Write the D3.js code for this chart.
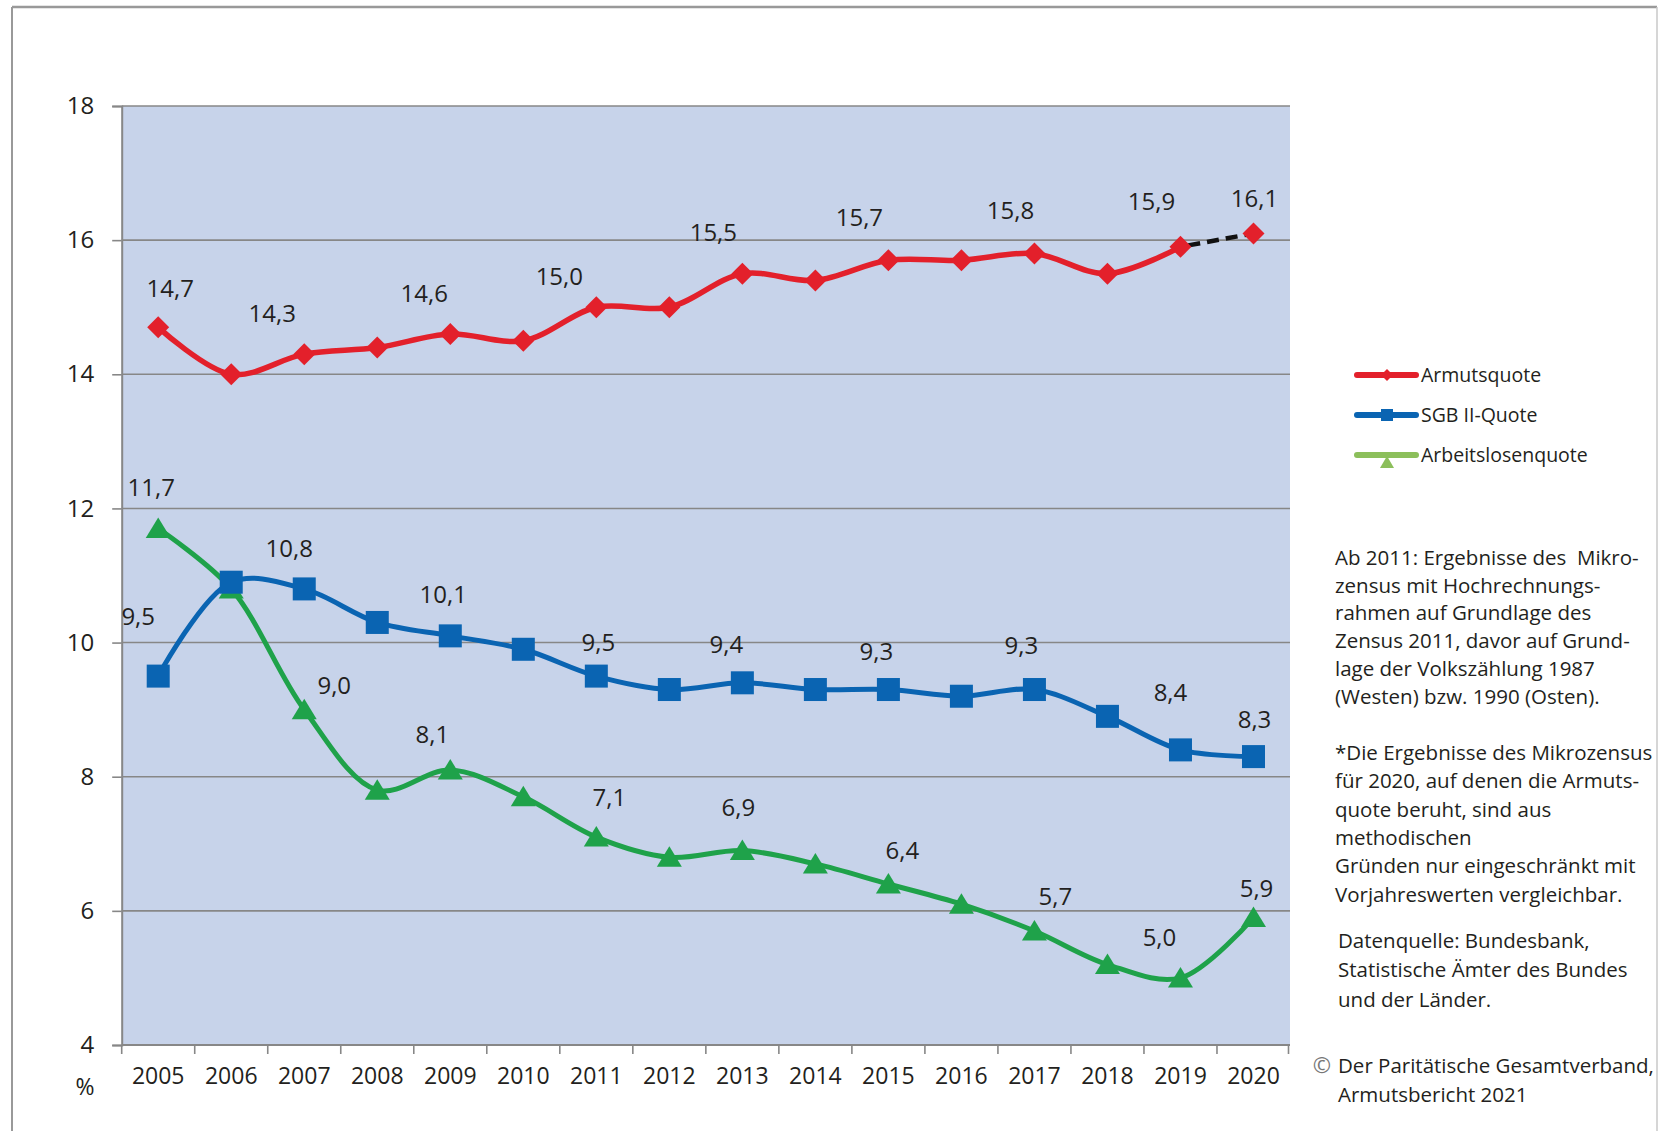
<!DOCTYPE html>
<html>
<head>
<meta charset="utf-8">
<script src="https://cdn.jsdelivr.net/npm/d3@7"></script>
<style>
  html, body { margin: 0; padding: 0; background: #fff; }
  svg { display: block; }
  text { font-family: "Open Sans", "Noto Sans", sans-serif; fill: #231f20; }
</style>
</head>
<body>
<svg id="chart" width="1658" height="1131"></svg>
<script>
// ---------- data ----------
const years = [2005, 2006, 2007, 2008, 2009, 2010, 2011, 2012, 2013, 2014, 2015, 2016, 2017, 2018, 2019, 2020];
const armutsquote = [14.7, 14.0, 14.3, 14.4, 14.6, 14.5, 15.0, 15.0, 15.5, 15.4, 15.7, 15.7, 15.8, 15.5, 15.9, 16.1];
const sgb2Quote = [9.5, 10.9, 10.8, 10.3, 10.1, 9.9, 9.5, 9.3, 9.4, 9.3, 9.3, 9.2, 9.3, 8.9, 8.4, 8.3];
const arbeitslosenquote = [11.7, 10.8, 9.0, 7.8, 8.1, 7.7, 7.1, 6.8, 6.9, 6.7, 6.4, 6.1, 5.7, 5.2, 5.0, 5.9];
const yTicks = [4, 6, 8, 10, 12, 14, 16, 18];
const seriesNames = ["Armutsquote", "SGB II-Quote", "Arbeitslosenquote"];
const labelledYears = [2005, 2007, 2009, 2011, 2013, 2015, 2017, 2019, 2020];
const noteLines1 = [
  "Ab 2011: Ergebnisse des  Mikro-",
  "zensus mit Hochrechnungs-",
  "rahmen auf Grundlage des",
  "Zensus 2011, davor auf Grund-",
  "lage der Volkszählung 1987",
  "(Westen) bzw. 1990 (Osten)."
];
const noteLines2 = [
  "*Die Ergebnisse des Mikrozensus",
  "für 2020, auf denen die Armuts-",
  "quote beruht, sind aus",
  "methodischen",
  "Gründen nur eingeschränkt mit",
  "Vorjahreswerten vergleichbar."
];
const sourceLines = ["Datenquelle: Bundesbank,", "Statistische Ämter des Bundes", "und der Länder."];
const copyrightLines = ["Der Paritätische Gesamtverband,", "Armutsbericht 2021"];

// ---------- layout / style (not data) ----------
const plot = { left: 121.7, right: 1290, top: 106, bottom: 1045 };
const colors = { red: "#e3202b", blue: "#0a64b2", green: "#1fa24a", legendGreen: "#8cbf5b", bg: "#c7d3ea", grid: "#878787" };
// label offsets (dx, dy) relative to the marker, per labelled year
const labelOffsets = {
  red:   [[12,-39],[-32,-41],[-26,-41],[-37,-31],[-29,-41],[-29,-43],[-24,-43],[-29,-45],[1,-35]],
  blue:  [[-20,-60],[-15,-40],[-7,-41],[2,-34],[-16,-38],[-12,-38],[-13,-44],[-10,-57],[1,-37]],
  green: [[-7,-41],[30,-24],[-18,-36],[13,-40],[-4,-43],[14,-34],[21,-34],[-21,-40],[3,-29]]
};

const svg = d3.select("#chart");

// outer frame
svg.append("line").attr("x1", 12).attr("x2", 1657).attr("y1", 7).attr("y2", 7).attr("stroke", "#999").attr("stroke-width", 2.5);
svg.append("line").attr("x1", 12).attr("x2", 12).attr("y1", 7).attr("y2", 1131).attr("stroke", "#999").attr("stroke-width", 2);
svg.append("line").attr("x1", 1657).attr("x2", 1657).attr("y1", 7).attr("y2", 1131).attr("stroke", "#c8c8c8").attr("stroke-width", 1.5);

const x = d3.scaleBand().domain(years).range([plot.left, plot.right]).padding(0);
const y = d3.scaleLinear().domain([4, 18]).range([plot.bottom, plot.top]);
const cx = yr => x(yr) + x.bandwidth() / 2;

// plot background
svg.append("rect").attr("x", plot.left).attr("y", plot.top)
  .attr("width", plot.right - plot.left).attr("height", plot.bottom - plot.top)
  .attr("fill", colors.bg);

// gridlines
svg.append("g").selectAll("line").data(yTicks.filter(t => t > 4)).join("line")
  .attr("x1", plot.left).attr("x2", plot.right)
  .attr("y1", d => y(d)).attr("y2", d => y(d))
  .attr("stroke", colors.grid).attr("stroke-width", 1.6);

// y axis
const yAxis = svg.append("g").attr("transform", `translate(${plot.left},0)`)
  .call(d3.axisLeft(y).tickValues(yTicks).tickSize(9.5).tickPadding(18).tickFormat(d3.format("d")));
yAxis.select(".domain").attr("stroke", colors.grid).attr("stroke-width", 2);
yAxis.selectAll(".tick line").attr("stroke", colors.grid).attr("stroke-width", 1.6);
yAxis.selectAll(".tick text").style("font-family", "Open Sans").style("font-size", "24px").attr("fill", "#231f20");

// x axis line + boundary ticks
svg.append("line").attr("x1", plot.left).attr("x2", plot.right)
  .attr("y1", plot.bottom).attr("y2", plot.bottom).attr("stroke", colors.grid).attr("stroke-width", 2);
const boundaries = years.map(yr => x(yr)).concat([plot.right - 1.5]);
svg.append("g").selectAll("line").data(boundaries).join("line")
  .attr("x1", d => d).attr("x2", d => d)
  .attr("y1", plot.bottom).attr("y2", plot.bottom + 9)
  .attr("stroke", colors.grid).attr("stroke-width", 1.6);
const xAxis = svg.append("g").attr("transform", `translate(0,${plot.bottom})`)
  .call(d3.axisBottom(x).tickSize(0).tickPadding(23));
xAxis.select(".domain").remove();
xAxis.selectAll(".tick text").style("font-family", "Open Sans").style("font-size", "23px").attr("fill", "#231f20");

svg.append("text").attr("x", 85).attr("y", 1095).attr("text-anchor", "middle")
  .style("font-size", "23px").text("%");

// series
const curve = d3.curveCatmullRom.alpha(0.5);
const line = d3.line().x(d => cx(d.year)).y(d => y(d.v)).curve(curve);
const toPts = arr => years.map((yr, i) => ({ year: yr, v: arr[i] }));

const redPts = toPts(armutsquote);
const bluePts = toPts(sgb2Quote);
const greenPts = toPts(arbeitslosenquote);

// green line
svg.append("path").attr("d", line(greenPts)).attr("fill", "none").attr("stroke", colors.green).attr("stroke-width", 5);
// blue line
svg.append("path").attr("d", line(bluePts)).attr("fill", "none").attr("stroke", colors.blue).attr("stroke-width", 5);
// red line (solid up to 2019, dashed black 2019-2020)
svg.append("path").attr("d", line(redPts.slice(0, 15))).attr("fill", "none").attr("stroke", colors.red).attr("stroke-width", 5.5);
svg.append("path").attr("d", d3.line().x(d => cx(d.year)).y(d => y(d.v))(redPts.slice(14)))
  .attr("fill", "none").attr("stroke", "#111").attr("stroke-width", 4.5)
  .attr("stroke-dasharray", "12,7").attr("stroke-dashoffset", -8);

// markers
svg.append("g").selectAll("path").data(greenPts).join("path")
  .attr("transform", d => `translate(${cx(d.year)},${y(d.v)})`)
  .attr("d", "M0,-11 L12.5,9.5 L-12.5,9.5 Z").attr("fill", colors.green);
svg.append("g").selectAll("rect").data(bluePts).join("rect")
  .attr("x", d => cx(d.year) - 11.5).attr("y", d => y(d.v) - 11.5)
  .attr("width", 23).attr("height", 23).attr("fill", colors.blue);
svg.append("g").selectAll("path").data(redPts).join("path")
  .attr("transform", d => `translate(${cx(d.year)},${y(d.v)})`)
  .attr("d", "M0,-11 L11,0 L0,11 L-11,0 Z").attr("fill", colors.red);

// value labels
const fmt = v => d3.format(".1f")(v).replace(".", ",");
function addLabels(pts, offsets) {
  const lab = pts.filter(p => labelledYears.includes(p.year));
  svg.append("g").selectAll("text").data(lab).join("text")
    .attr("x", (d, i) => cx(d.year) + offsets[i][0])
    .attr("y", (d, i) => y(d.v) + offsets[i][1] + 8.5)
    .attr("text-anchor", "middle")
    .style("font-size", "24px")
    .text(d => fmt(d.v));
}
addLabels(redPts, labelOffsets.red);
addLabels(bluePts, labelOffsets.blue);
addLabels(greenPts, labelOffsets.green);

// legend
const legend = svg.append("g");
const legendItems = [
  { name: seriesNames[0], color: colors.red, y: 375, marker: "diamond" },
  { name: seriesNames[1], color: colors.blue, y: 415, marker: "square" },
  { name: seriesNames[2], color: colors.legendGreen, y: 455, marker: "triangle" }
];
legendItems.forEach(it => {
  legend.append("line").attr("x1", 1357).attr("x2", 1416).attr("y1", it.y).attr("y2", it.y)
    .attr("stroke", it.color).attr("stroke-width", 6).attr("stroke-linecap", "round");
  const mx = 1387;
  if (it.marker === "diamond") {
    legend.append("path").attr("d", `M${mx},${it.y-6} L${mx+6},${it.y} L${mx},${it.y+6} L${mx-6},${it.y} Z`).attr("fill", it.color);
  } else if (it.marker === "square") {
    legend.append("rect").attr("x", mx - 6).attr("y", it.y - 6).attr("width", 12).attr("height", 12).attr("fill", it.color);
  } else {
    legend.append("path").attr("d", `M${mx},${it.y+1} L${mx+7},${it.y+13} L${mx-7},${it.y+13} Z`).attr("fill", it.color);
  }
  legend.append("text").attr("x", 1421).attr("y", it.y + 7).style("font-size", "19.5px").text(it.name);
});

// notes
function block(lines, x0, y0, lh) {
  const t = svg.append("text").attr("x", x0).attr("y", y0).style("font-size", "20.5px").style("white-space", "pre");
  lines.forEach((l, i) => t.append("tspan").attr("x", x0).attr("y", y0 + i * lh).text(l));
}
block(noteLines1, 1335, 565, 27.7);
block(noteLines2, 1335, 760, 28.3);
block(sourceLines, 1338, 948, 29.3);
block(copyrightLines, 1338, 1073, 29);
svg.append("text").attr("x", 1322).attr("y", 1073).attr("text-anchor", "middle")
  .style("font-size", "22px").style("fill", "#777").text("©");
</script>
</body>
</html>
